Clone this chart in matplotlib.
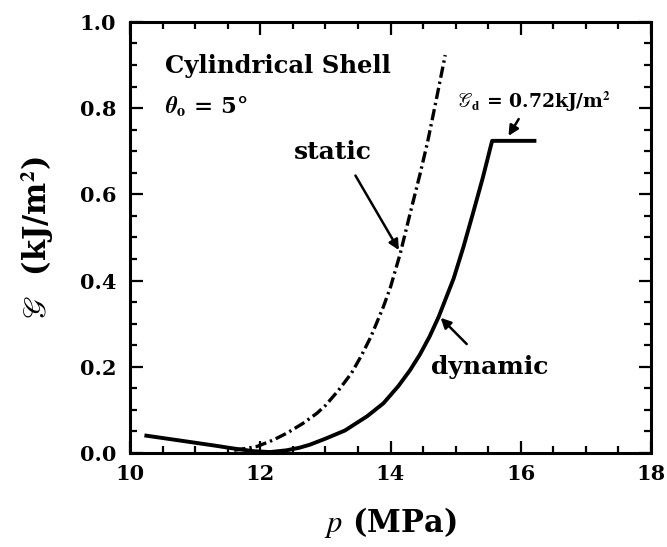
import matplotlib
matplotlib.use("Agg")
import matplotlib.pyplot as plt
from matplotlib.ticker import MultipleLocator, FuncFormatter

plt.rcParams['mathtext.fontset'] = 'stix'

# data
dyn_p = [10.25, 10.8, 11.3, 11.6, 11.9, 12.15, 12.4, 12.6, 12.76, 13.0, 13.3, 13.64, 13.89, 14.12, 14.3, 14.45, 14.6, 14.74, 14.97, 15.12, 15.27, 15.42, 15.56, 16.21]
dyn_g = [0.040, 0.028, 0.017, 0.010, 0.004, 0.002, 0.006, 0.012, 0.019, 0.033, 0.052, 0.085, 0.115, 0.155, 0.192, 0.228, 0.270, 0.316, 0.405, 0.478, 0.558, 0.640, 0.724, 0.724]

sta_p = [11.6, 11.8, 11.95, 12.2, 12.41, 12.65, 12.87, 13.0, 13.2, 13.4, 13.55, 13.7, 13.89, 14.0, 14.15, 14.3, 14.45, 14.57, 14.69, 14.84]
sta_g = [0.006, 0.011, 0.015, 0.030, 0.046, 0.068, 0.092, 0.110, 0.145, 0.185, 0.225, 0.270, 0.339, 0.385, 0.463, 0.555, 0.645, 0.722, 0.810, 0.923]

fig = plt.figure(figsize=(6.67, 5.47), dpi=100)
ax = fig.add_axes([0.195, 0.172, 0.781, 0.788])

ax.plot(dyn_p, dyn_g, color='black', lw=2.8, solid_joinstyle='round')
ax.plot(sta_p, sta_g, color='black', lw=2.4, dashes=(3.4, 1.2, 0.7, 1.2))

ax.set_xlim(10, 18)
ax.set_ylim(0, 1.0)
ax.xaxis.set_major_locator(MultipleLocator(2))
ax.xaxis.set_minor_locator(MultipleLocator(0.5))
ax.yaxis.set_major_locator(MultipleLocator(0.2))
ax.yaxis.set_minor_locator(MultipleLocator(0.05))
ax.tick_params(which='both', direction='in', top=True, right=True, width=1.6)
ax.tick_params(which='major', length=9)
ax.tick_params(which='minor', length=5)
for s in ax.spines.values():
    s.set_linewidth(2.2)

fp = dict(family='DejaVu Serif', weight='bold')
ax.xaxis.set_major_formatter(FuncFormatter(lambda v, p: f"{v:.0f}"))
ax.yaxis.set_major_formatter(FuncFormatter(lambda v, p: f"{v:.1f}"))
for lab in ax.get_xticklabels() + ax.get_yticklabels():
    lab.set_fontfamily('DejaVu Serif')
    lab.set_fontweight('bold')
    lab.set_fontsize(15)
ax.tick_params(axis='x', pad=8)
ax.tick_params(axis='y', pad=10)

ax.set_xlabel(r'$p$ (MPa)', fontsize=22, labelpad=15, **fp)
ax.set_ylabel(r'$\mathscr{G}$  (kJ/m$^\mathbf{2}$)', fontsize=22, labelpad=17, **fp)

ax.text(10.53, 0.897, 'Cylindrical Shell', fontsize=17.5, va='center', ha='left', **fp)
ax.text(10.53, 0.805, r'$\boldsymbol{\theta}_{\mathbf{o}}$ = 5°', fontsize=16.5, va='center', ha='left', **fp)
ax.text(13.11, 0.697, 'static', fontsize=18, va='center', ha='center', **fp)
ax.text(15.52, 0.20, 'dynamic', fontsize=18, va='center', ha='center', **fp)
ax.text(15.02, 0.815, r'$\mathscr{G}_{\mathbf{d}}$ = 0.72kJ/m$^\mathbf{2}$', fontsize=13.5, va='center', ha='left', **fp)

arrow = dict(arrowstyle='-|>', color='black', lw=1.8, mutation_scale=15)
ax.annotate('', xy=(14.15, 0.465), xytext=(13.44, 0.649), arrowprops=arrow)
ax.annotate('', xy=(14.74, 0.318), xytext=(15.2, 0.248), arrowprops=arrow)
ax.annotate('', xy=(15.79, 0.730), xytext=(15.99, 0.78), arrowprops=arrow)

fig.savefig('out.png', dpi=100)
